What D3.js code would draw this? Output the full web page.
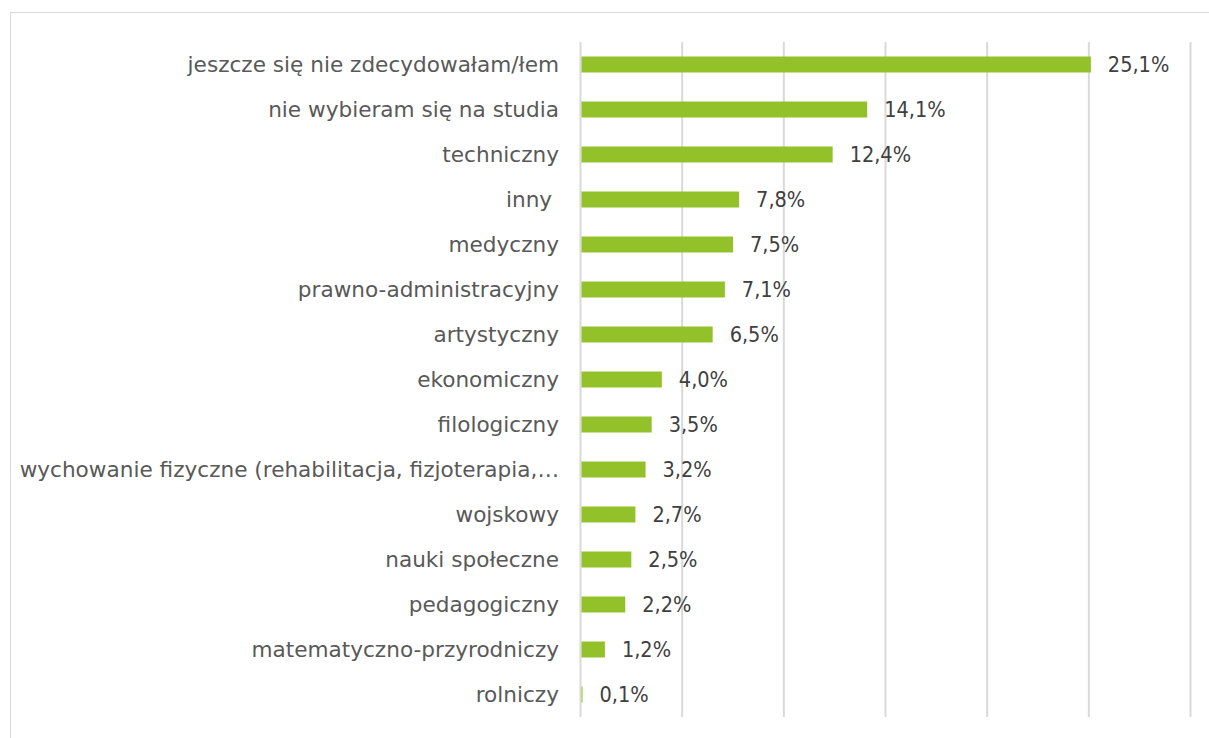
<!DOCTYPE html>
<html><head><meta charset="utf-8">
<script src="https://cdn.jsdelivr.net/npm/d3@7"></script>
<style>body{margin:0;background:#fff;}svg{display:block;}</style>
</head><body>
<script>
const categories = ["jeszcze się nie zdecydowałam/łem","nie wybieram się na studia","techniczny","inny ","medyczny","prawno-administracyjny","artystyczny","ekonomiczny","filologiczny","wychowanie fizyczne (rehabilitacja, fizjoterapia,…","wojskowy","nauki społeczne","pedagogiczny","matematyczno-przyrodniczy","rolniczy"];
const values = [25.1,14.1,12.4,7.8,7.5,7.1,6.5,4.0,3.5,3.2,2.7,2.5,2.2,1.2,0.1];
const ticks = [0,5,10,15,20,25,30];

const W=1209,H=738;
const svg=d3.select("body").append("svg").attr("width",W).attr("height",H);
svg.append("rect").attr("x",10.5).attr("y",12.5).attr("width",1230).attr("height",800).attr("fill","none").attr("stroke","#d9d9d9").attr("stroke-width",1);

const x=d3.scaleLinear().domain([0,30]).range([580.5,1190.5]);
const y=d3.scaleBand().domain(categories).range([42,717]).paddingInner(0.645).paddingOuter(0.3225);

svg.append("g").selectAll("line").data(ticks).join("line")
  .attr("x1",d=>x(d)).attr("x2",d=>x(d)).attr("y1",42).attr("y2",717)
  .attr("stroke","#d9d9d9").attr("stroke-width",2);

svg.append("g").selectAll("rect").data(values).join("rect")
  .attr("x",x(0)+1).attr("y",(d,i)=>y(categories[i]))
  .attr("width",d=>Math.max(0,x(d)-x(0)-1)).attr("height",y.bandwidth())
  .attr("fill","#92c12a");

svg.append("g").selectAll("text").data(categories).join("text")
  .attr("x",559).attr("y",d=>y(d)+y.bandwidth()/2).attr("dy","0.36em")
  .attr("text-anchor","end").attr("font-family","'DejaVu Sans',sans-serif").attr("font-size",21.6).attr("fill","#595959")
  .attr("xml:space","preserve").style("white-space","pre")
  .text(d=>d);

svg.append("g").selectAll("text").data(values).join("text")
  .attr("x",d=>x(d)+17).attr("y",(d,i)=>y(categories[i])+y.bandwidth()/2).attr("dy","0.36em")
  .attr("font-family","'DejaVu Sans Condensed','DejaVu Sans',sans-serif").attr("font-size",21.5).attr("fill","#404040")
  .text(d=>d.toFixed(1).replace(".",",")+"%");
</script>
</body></html>
